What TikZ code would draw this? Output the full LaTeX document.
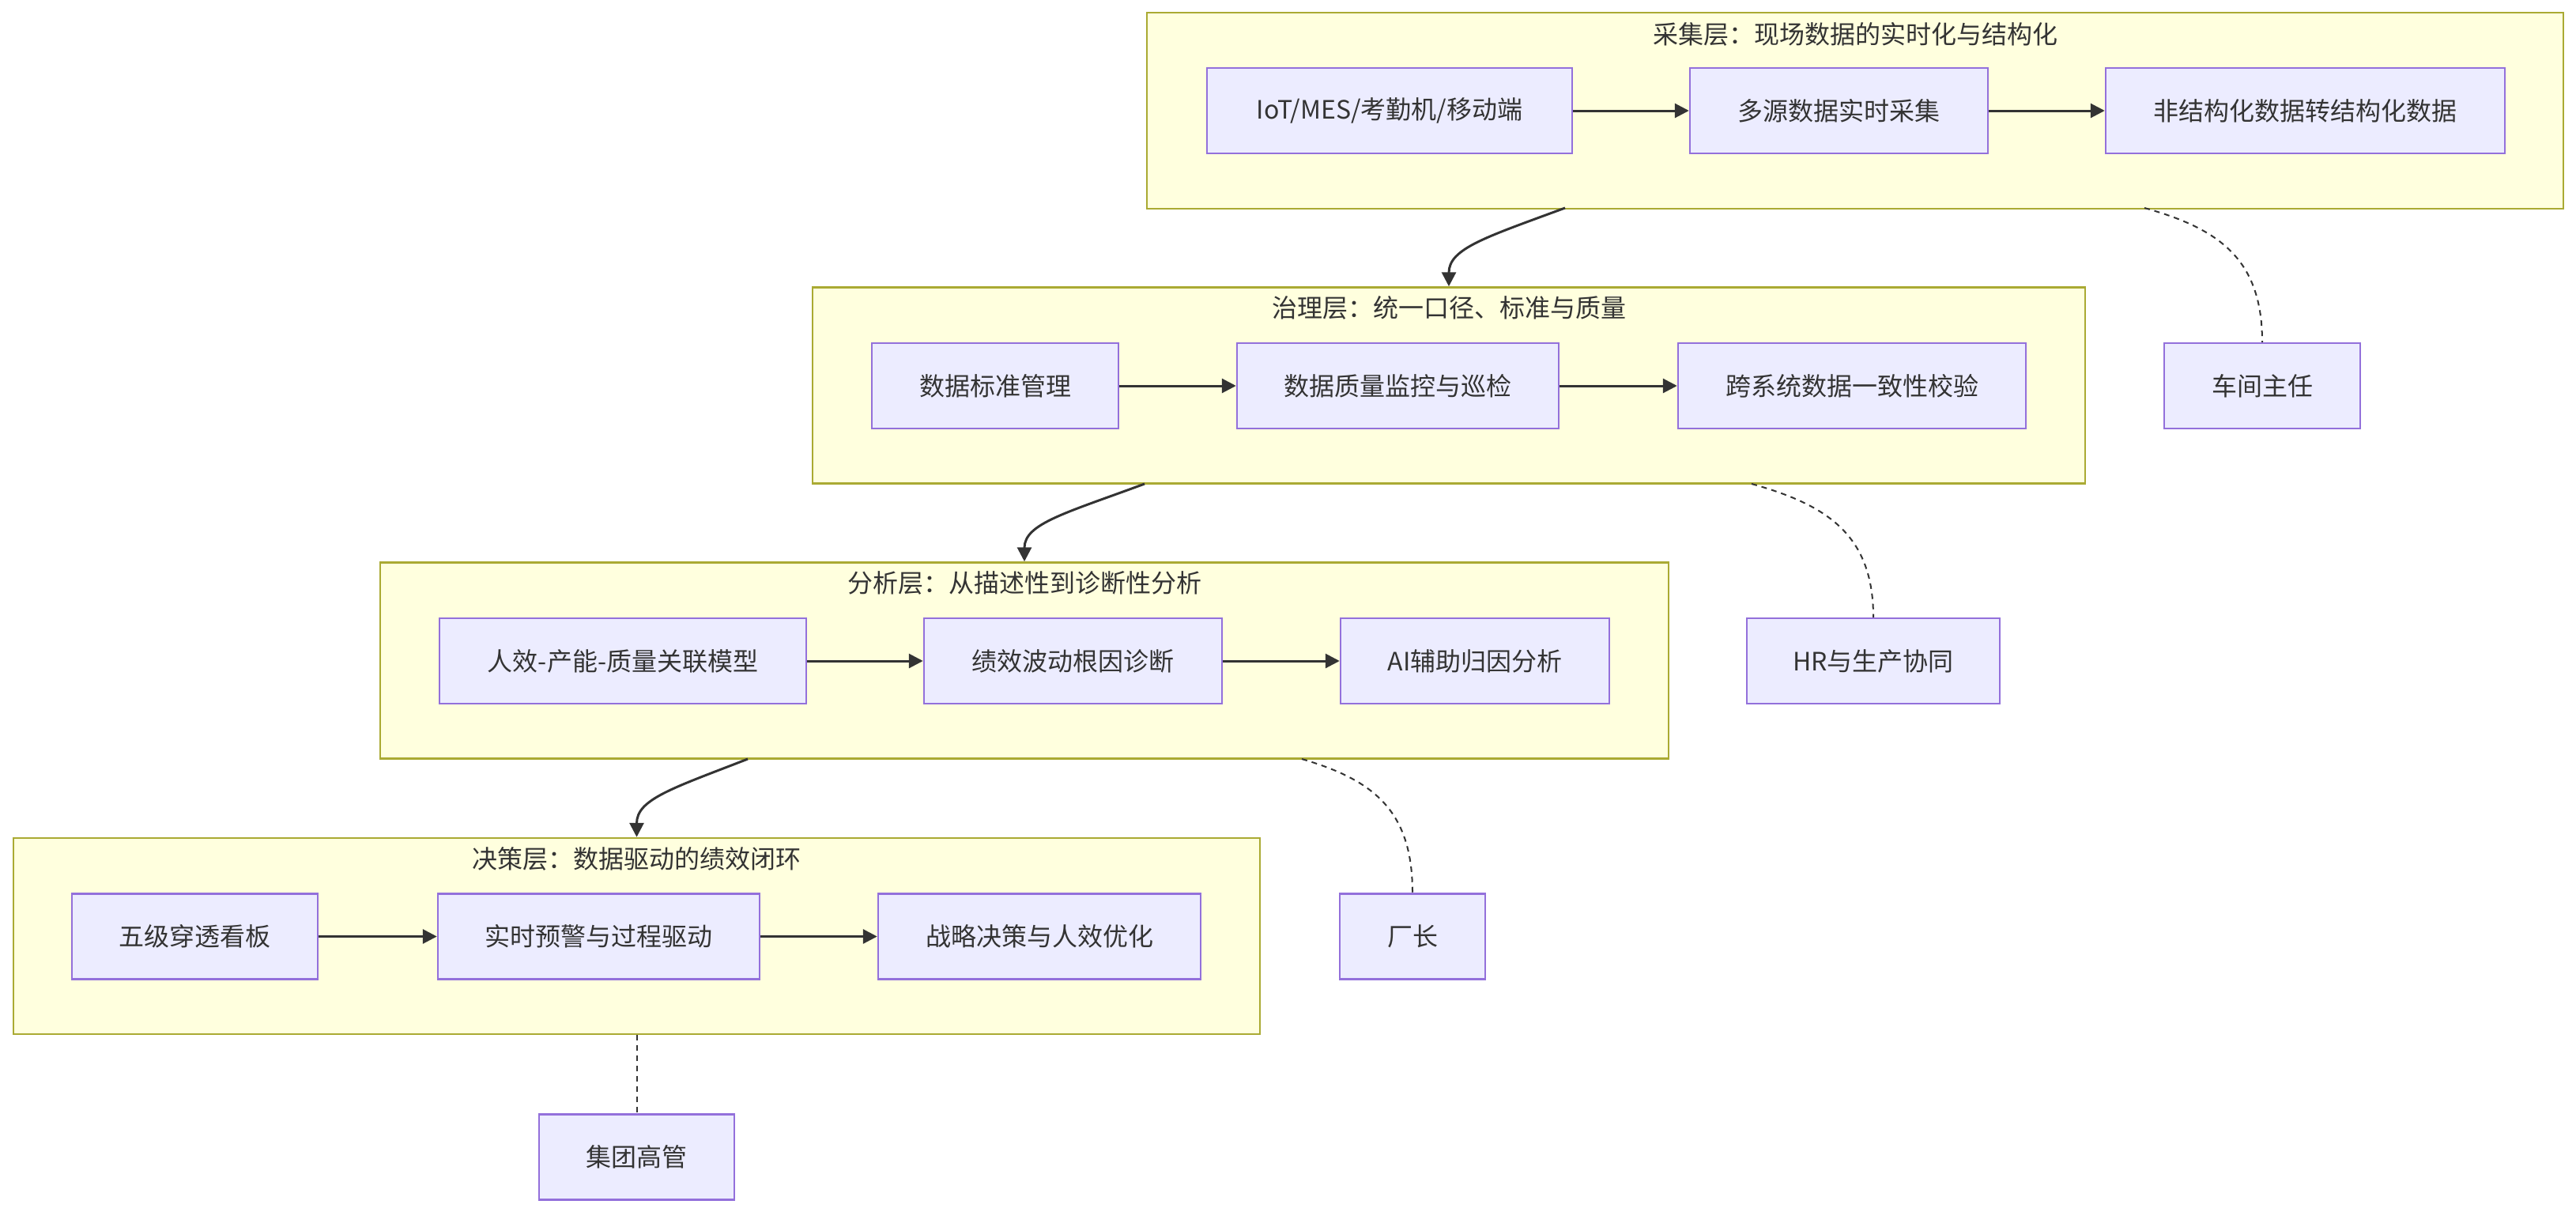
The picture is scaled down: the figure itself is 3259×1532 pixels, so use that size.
\documentclass[tikz,border=0pt]{standalone}
\usepackage{fontspec}
\setmainfont{Noto Sans CJK SC}
\usetikzlibrary{arrows.meta}
\definecolor{clfill}{HTML}{FFFFDE}
\definecolor{cldraw}{HTML}{AAAA33}
\definecolor{ndfill}{HTML}{ECECFF}
\definecolor{nddraw}{HTML}{9370DB}
\definecolor{txt}{HTML}{333333}
\begin{document}
\begin{tikzpicture}[x=1pt,y=-1pt,
  cluster/.style={draw=cldraw,fill=clfill,line width=2.5pt,inner sep=0pt,minimum height=248pt},
  nbox/.style={draw=nddraw,fill=ndfill,line width=2.5pt,minimum height=108pt,inner sep=0pt,text=txt,font=\fontsize{32}{38}\selectfont},
  ttl/.style={text=txt,font=\fontsize{32}{38}\selectfont,inner sep=0pt},
  flow/.style={draw=txt,line width=3pt,-{Triangle[length=18pt,width=18pt]}},
  link/.style={draw=txt,line width=2pt,dash pattern=on 7pt off 6pt}]
\useasboundingbox[fill=white] (0,0) rectangle (3259,1532);

% clusters
\node[cluster,minimum width=1792pt] (c1) at (2347,140) {};
\node[cluster,minimum width=1610pt] (c2) at (1833,487.5) {};
\node[cluster,minimum width=1630pt] (c3) at (1296,835.5) {};
\node[cluster,minimum width=1577pt] (c4) at (805.5,1184) {};

\node[ttl] (t1) at (2347,43) {采集层：现场数据的实时化与结构化};
\node[ttl] (t2) at (1833,389) {治理层：统一口径、标准与质量};
\node[ttl] (t3) at (1296,737) {分析层：从描述性到诊断性分析};
\node[ttl] (t4) at (805.5,1086) {决策层：数据驱动的绩效闭环};

% layer 1
\node[nbox,minimum width=462pt] (a1) at (1758,140) {IoT/MES/考勤机/移动端};
\node[nbox,minimum width=377pt] (a2) at (2326.5,140) {多源数据实时采集};
\node[nbox,minimum width=505pt] (a3) at (2916.5,140) {非结构化数据转结构化数据};
% layer 2
\node[nbox,minimum width=312pt] (b1) at (1259,488) {数据标准管理};
\node[nbox,minimum width=407pt] (b2) at (1768.5,488) {数据质量监控与巡检};
\node[nbox,minimum width=440pt] (b3) at (2343,488) {跨系统数据一致性校验};
% layer 3
\node[nbox,minimum width=464pt] (d1) at (788,836) {人效-产能-质量关联模型};
\node[nbox,minimum width=377pt] (d2) at (1357.5,836) {绩效波动根因诊断};
\node[nbox,minimum width=340pt] (d3) at (1866,836) {AI辅助归因分析};
% layer 4
\node[nbox,minimum width=311pt] (e1) at (246.5,1184.5) {五级穿透看板};
\node[nbox,minimum width=407pt] (e2) at (757.5,1184.5) {实时预警与过程驱动};
\node[nbox,minimum width=408pt] (e3) at (1315,1184.5) {战略决策与人效优化};

% people
\node[nbox,minimum width=248pt] (p1) at (2862,488) {车间主任};
\node[nbox,minimum width=320pt] (p2) at (2370,836) {HR与生产协同};
\node[nbox,minimum width=184pt] (p3) at (1787,1184.5) {厂长};
\node[nbox,minimum width=247pt] (p4) at (805.5,1463.5) {集团高管};

% horizontal flows
\draw[flow] (a1) -- (a2);
\draw[flow] (a2) -- (a3);
\draw[flow] (b1) -- (b2);
\draw[flow] (b2) -- (b3);
\draw[flow] (d1) -- (d2);
\draw[flow] (d2) -- (d3);
\draw[flow] (e1) -- (e2);
\draw[flow] (e2) -- (e3);

% cluster to cluster
\coordinate (s1) at (1980,263);
\coordinate (s2) at (1448,612);
\coordinate (s3) at (946,960);
\draw[flow] (s1) .. controls +(-100,37) and +(0,-48) .. (c2.north);
\draw[flow] (s2) .. controls +(-100,37) and +(0,-48) .. (c3.north);
\draw[flow] (s3) .. controls +(-95,37) and +(0,-48) .. (c4.north);

% dotted links to people
\coordinate (q1) at (2713,263);
\coordinate (q2) at (2216,612);
\coordinate (q3) at (1647,960);
\draw[link] (q1) .. controls +(97,27) and +(0,-103) .. (p1.north);
\draw[link] (q2) .. controls +(97,27) and +(0,-103) .. (p2.north);
\draw[link] (q3) .. controls +(92,27) and +(0,-103) .. (p3.north);
\draw[link] (c4.south) -- (p4.north);
\end{tikzpicture}
\end{document}
